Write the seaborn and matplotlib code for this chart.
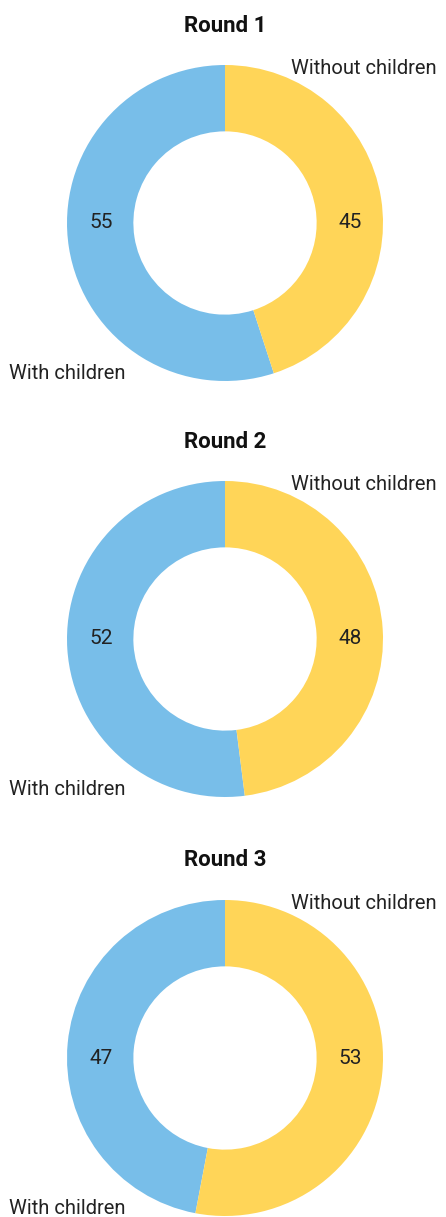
import seaborn as sns
import matplotlib.pyplot as plt

# Share of households per survey round
rounds = ["Round 1", "Round 2", "Round 3"]
with_children = [55, 52, 47]
without_children = [45, 48, 53]
categories = ["With children", "Without children"]

colors = ["#78BEE9", "#FFD558"]

sns.set_theme(style="white")
plt.rcParams["font.family"] = ["Roboto", "DejaVu Sans"]

W, H = 446, 1217
fig = plt.figure(figsize=(W / 100, H / 100), dpi=100)

R = 158            # outer radius in px
centers_y = [223, 639, 1058]
cx = 225

for i, name in enumerate(rounds):
    cy = centers_y[i]
    ax = fig.add_axes([(cx - R) / W, (H - cy - R) / H, 2 * R / W, 2 * R / H])
    vals = [with_children[i], without_children[i]]
    ax.pie(vals, colors=colors, startangle=90, counterclock=True,
           wedgeprops=dict(width=0.42, linewidth=0))
    ax.set_xlim(-1, 1)
    ax.set_ylim(-1, 1)

    # title
    ax.text(0, 1.25, name, ha="center", va="center", fontsize=16,
            fontweight="bold", color="#111111", clip_on=False)
    # values inside the ring
    ax.text(-0.785, 0, f"{vals[0]}", ha="center", va="center",
            fontsize=15, color="#222222")
    ax.text(0.79, 0, f"{vals[1]}", ha="center", va="center",
            fontsize=15, color="#222222")
    # category labels
    ax.text(0.42, 0.975, categories[1], ha="left", va="center",
            fontsize=14.5, color="#222222", clip_on=False)
    ax.text(-1.37, -0.955, categories[0], ha="left", va="center",
            fontsize=14.5, color="#222222", clip_on=False)

plt.savefig("out.png", dpi=100)
